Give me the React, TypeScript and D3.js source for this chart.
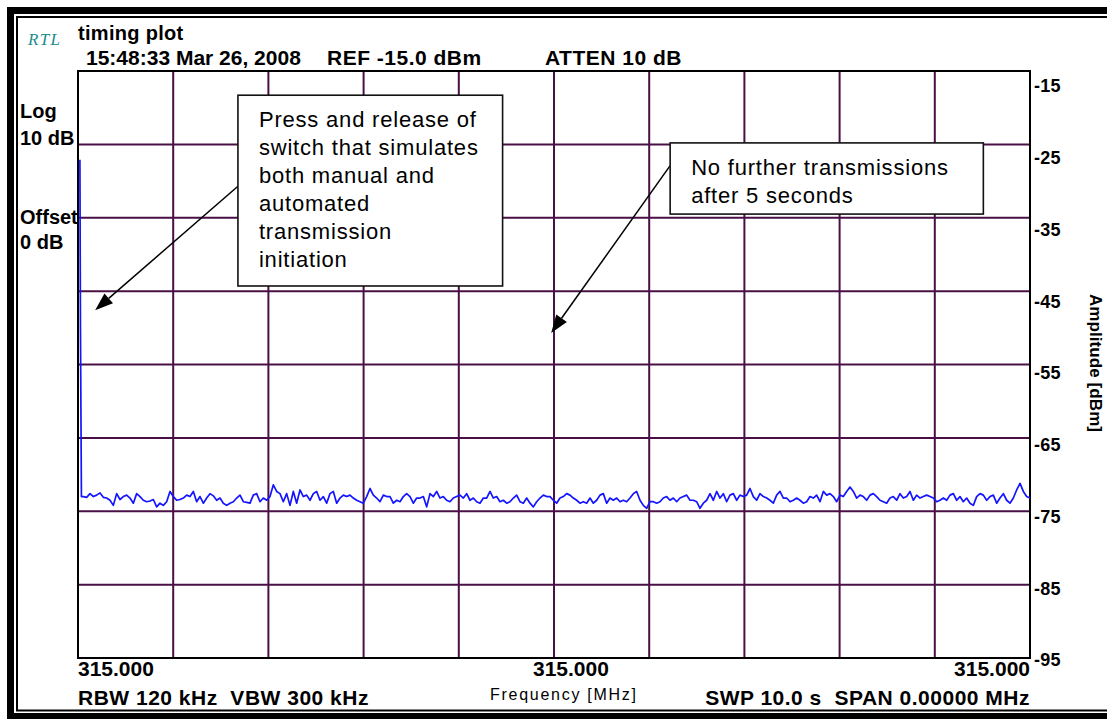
import React, { useEffect, useRef } from "react";
import * as d3 from "d3";

// amplitude axis (dBm) and sweep time (s)
const ampTicks = [-15, -25, -35, -45, -55, -65, -75, -85, -95];
const timeGrid = [0, 1, 2, 3, 4, 5, 6, 7, 8, 9, 10];
const freqTimes = [0, 5, 10];
const freqLabels = ["315.000", "315.000", "315.000"];
const leftLabels = ["Log", "10 dB", "Offset", "0 dB"];

// switch press at the start of the sweep
const spikeTimes = [0.02, 0.026, 0.036];
const spikeAmp = [-27.1, -50.3, -73.0];

const noiseStart = 0.056;
const noiseA = [
  -73.0, -73.1, -72.6, -73.0, -72.8, -72.5, -73.1, -73.2, -73.5, -74.2,
  -72.6, -73.4, -73.0, -72.8, -73.2, -73.9, -72.6, -73.0, -73.5, -73.7,
  -73.6, -73.4, -74.4, -73.9, -74.2, -73.7, -72.3, -73.0, -73.5, -73.4,
  -73.2, -72.8, -73.0, -72.3, -73.7, -73.0, -73.9, -73.2, -72.6, -72.9,
  -73.5, -73.2, -73.9, -74.2, -73.9, -73.7, -73.2, -72.8, -73.7, -73.8,
  -73.9, -72.8, -72.6, -73.7, -73.2, -73.5, -73.0, -71.4, -72.3, -72.6,
  -73.7, -72.6, -74.2, -72.3, -73.9, -72.1, -73.0, -72.8, -73.5, -72.6,
  -72.3, -73.5, -73.0, -73.9, -72.6, -72.3, -73.9, -73.2, -72.8, -73.0,
  -72.8, -73.2, -73.5, -73.7, -73.9, -73.0, -71.9, -72.8, -73.2, -73.7,
  -72.8, -73.0, -73.0, -73.9, -73.5, -73.7, -73.0, -72.6, -73.0, -73.9, -73.2,
];
const noiseB = [
  -73.2, -73.0, -74.4, -72.6, -73.0, -72.3, -73.2, -73.0, -73.5, -73.7,
  -73.2, -73.0, -72.8, -73.2, -72.6, -73.5, -73.2, -73.7, -73.9, -73.2,
  -73.2, -72.3, -73.2, -73.0, -73.7, -73.5, -73.9, -73.7, -73.2, -72.8,
  -73.7, -73.9, -73.2, -73.9, -74.4, -73.7, -73.2, -72.8, -73.0, -73.0,
  -73.5, -73.9, -73.2, -73.0, -72.6, -72.8, -73.2, -73.5, -73.9, -73.7,
  -73.9, -73.2, -73.9, -73.5, -72.8, -72.6, -73.9, -73.2, -73.5, -73.2,
  -73.7, -73.5, -73.7, -73.2, -72.6, -72.3, -73.5, -74.2, -74.6, -73.7,
  -73.7, -73.9, -73.7, -73.2, -73.0, -73.5, -73.2, -73.7, -73.2, -73.0,
  -72.8, -73.5, -73.5, -73.7, -74.6, -73.9, -73.5, -72.6, -73.5, -72.3,
  -73.2, -72.6, -73.7, -72.8, -72.6, -73.5,
];
const noiseC = [
  -72.8, -73.0, -72.8, -71.9, -73.0, -73.5, -72.6, -73.0, -73.2, -73.5,
  -73.9, -72.8, -72.3, -73.2, -73.2, -73.7, -73.5, -73.2, -73.5, -73.9,
  -73.7, -73.0, -73.2, -72.8, -73.7, -72.3, -72.8, -72.6, -73.0, -73.7,
  -72.8, -73.0, -72.3, -71.7, -72.3, -73.2, -72.8, -73.0, -73.5, -72.8,
  -72.6, -73.0, -73.5, -73.7, -73.9, -73.2, -73.0, -73.5, -72.6, -73.2,
  -73.0, -72.3, -73.5, -72.8, -73.2, -73.0, -72.8, -73.0, -73.2, -73.7,
  -73.5, -73.2, -73.5, -72.8, -72.6, -73.5, -73.0, -73.7, -73.2, -73.9,
  -74.2, -73.0, -72.6, -72.8, -73.5, -73.0, -72.8, -73.9, -73.2, -72.6,
  -73.5, -73.9, -73.2, -72.1, -71.2, -72.3, -73.0, -73.2,
];

const noteOneLines = [
  "Press and release of",
  "switch that simulates",
  "both manual and",
  "automated",
  "transmission",
  "initiation",
];
const noteTwoLines = ["No further transmissions", "after 5 seconds"];

const FONT = "'Liberation Sans', Arial, sans-serif";

export default function App() {
  const ref = useRef<SVGSVGElement>(null);

  useEffect(() => {
    const svg = d3.select(ref.current);
    svg.selectAll("*").remove();

    const m = { left: 78, top: 71, right: 1030, bottom: 658 };
    const noise = [...noiseA, ...noiseB, ...noiseC];
    const nStep = (10 - noiseStart) / (noise.length - 1);
    const trace: [number, number][] = [
      ...spikeTimes.map((t, i) => [t, spikeAmp[i]] as [number, number]),
      ...noise.map((v, i) => [noiseStart + i * nStep, v] as [number, number]),
    ];

    const x = d3.scaleLinear().domain([0, 10]).range([m.left, m.right]);
    const y = d3.scaleLinear().domain([-15, -95]).range([m.top, m.bottom]);
    // tick labels sit a bit lower than their lines on the instrument
    const yLab = d3.scaleLinear().domain([-15, -95]).range([m.top + 15, m.bottom + 2]);

    // outer frame
    svg.append("rect").attr("x", 10.5).attr("y", 10.5).attr("width", 1120).attr("height", 706)
      .attr("fill", "none").attr("stroke", "#000").attr("stroke-width", 7);
    svg.append("rect").attr("x", 17).attr("y", 17).attr("width", 1120).attr("height", 693.5)
      .attr("fill", "none").attr("stroke", "#000").attr("stroke-width", 2);

    // grid
    const grid = svg.append("g").attr("stroke", "#4a1046").attr("stroke-width", 2);
    grid.selectAll(".v").data(timeGrid.slice(1, -1)).join("line").attr("class", "v")
      .attr("x1", d => x(d)).attr("x2", d => x(d)).attr("y1", m.top).attr("y2", m.bottom);
    grid.selectAll(".h").data(ampTicks.slice(1, -1)).join("line").attr("class", "h")
      .attr("x1", m.left).attr("x2", m.right).attr("y1", d => y(d)).attr("y2", d => y(d));

    svg.append("rect").attr("x", m.left).attr("y", m.top)
      .attr("width", m.right - m.left).attr("height", m.bottom - m.top)
      .attr("fill", "none").attr("stroke", "#000").attr("stroke-width", 2);

    // trace
    const line = d3.line<[number, number]>().x(d => x(d[0])).y(d => y(d[1]));
    svg.append("path").datum(trace).attr("d", line).attr("fill", "none")
      .attr("stroke", "#1414ff").attr("stroke-width", 1.7).attr("stroke-linejoin", "round");

    // right amplitude labels
    svg.selectAll(".amp").data(ampTicks).join("text").attr("class", "amp")
      .attr("x", m.right + 4).attr("y", d => yLab(d)).attr("dy", "0.36em")
      .style("font", `bold 18px ${FONT}`).style("letter-spacing", "0.3px").text(d => d);

    svg.append("text").attr("transform", `translate(1090,363) rotate(90)`)
      .attr("text-anchor", "middle").attr("textLength", 138)
      .style("font", `bold 17px ${FONT}`).text("Amplitude [dBm]");

    // bottom frequency labels
    const anchors = ["start", "start", "end"];
    const shifts = [0, -21, 0];
    svg.selectAll(".freq").data(freqTimes).join("text").attr("class", "freq")
      .attr("x", (d, i) => x(d) + shifts[i]).attr("y", 676)
      .attr("text-anchor", (d, i) => anchors[i])
      .style("font", `bold 21px ${FONT}`).text((d, i) => freqLabels[i]);

    const txt = (s: string, px: number, py: number, font: string, extra?: (t: any) => void) => {
      const t = svg.append("text").attr("x", px).attr("y", py)
        .style("font", font).style("white-space", "pre").text(s);
      if (extra) extra(t);
      return t;
    };
    const wide = (t: any) => t.style("letter-spacing", "0.5px");

    txt("RBW 120 kHz  VBW 300 kHz", 78, 705, `bold 21px ${FONT}`, wide);
    txt("Frequency [MHz]", 490, 700, `16px ${FONT}`, t => t.attr("textLength", 146));
    txt("SWP 10.0 s  SPAN 0.00000 MHz", 1030, 705, `bold 21px ${FONT}`,
      t => wide(t).attr("text-anchor", "end"));

    // header
    txt("RTL", 28, 45, `italic 17px 'Liberation Serif', 'Times New Roman', serif`,
      t => t.attr("fill", "#1a8c8c").attr("textLength", 32));
    txt("timing plot", 78, 40, `bold 20px ${FONT}`, t => t.style("letter-spacing", "0.3px"));
    txt("15:48:33 Mar 26, 2008", 86, 65, `bold 21px ${FONT}`);
    txt("REF -15.0 dBm", 327, 65, `bold 21px ${FONT}`, wide);
    txt("ATTEN 10 dB", 545, 65, `bold 21px ${FONT}`, wide);

    const leftY = [118, 145, 224, 249];
    leftLabels.forEach((s, i) => txt(s, 20, leftY[i], `bold 20px ${FONT}`));

    // annotations (placed in data units)
    const notes = [
      { lines: noteOneLines, t: [1.68, 4.46], a: [-18.3, -44.3], from: [1.68, -30.7], to: [0.18, -47.6] },
      { lines: noteTwoLines, t: [6.22, 9.51], a: [-24.8, -34.5], from: [6.22, -27.9], to: [4.97, -50.7] },
    ];
    notes.forEach(n => {
      const x1 = x(n.from[0]), y1 = y(n.from[1]);
      const x2 = x(n.to[0]), y2 = y(n.to[1]);
      const ang = Math.atan2(y2 - y1, x2 - x1);
      const hl = 18, hw = 6.5;
      const bx = x2 - hl * Math.cos(ang), by = y2 - hl * Math.sin(ang);
      svg.append("line").attr("x1", x1).attr("y1", y1).attr("x2", bx).attr("y2", by)
        .attr("stroke", "#000").attr("stroke-width", 1.5);
      const pts = [
        [x2, y2],
        [bx + hw * Math.sin(ang), by - hw * Math.cos(ang)],
        [bx - hw * Math.sin(ang), by + hw * Math.cos(ang)],
      ];
      svg.append("polygon").attr("points", pts.map(p => p.join(",")).join(" ")).attr("fill", "#000");

      const bx0 = x(n.t[0]), by0 = y(n.a[0]);
      svg.append("rect").attr("x", bx0).attr("y", by0)
        .attr("width", x(n.t[1]) - bx0).attr("height", y(n.a[1]) - by0)
        .attr("fill", "#fff").attr("stroke", "#111").attr("stroke-width", 1.6);
      n.lines.forEach((s, i) => {
        svg.append("text").attr("x", bx0 + 21).attr("y", by0 + 32 + i * 28)
          .style("font", `22px ${FONT}`).style("letter-spacing", "0.8px").text(s);
      });
    });
  }, []);

  return (
    <svg ref={ref} width={1107} height={719}
      style={{ position: "absolute", left: 0, top: 0, background: "#fff" }} />
  );
}
